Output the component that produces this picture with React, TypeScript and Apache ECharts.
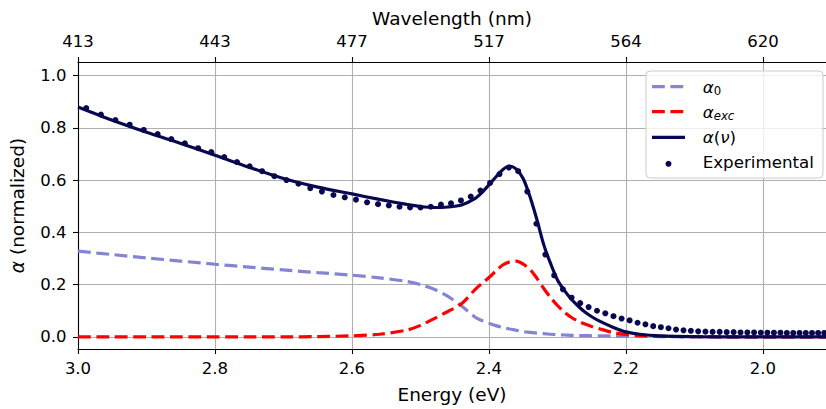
import React, { useEffect, useRef } from "react";
import * as echarts from "echarts";

// Experimental points, sampled on a wavelength grid (nm)
const expWavelength = [
  415, 418, 421, 424, 427, 430, 433, 436, 439, 442, 445, 448, 451, 454, 457, 460,
  463, 466, 469, 472, 475, 478, 481, 484, 487, 490, 493, 496, 499, 502, 505, 508,
  511, 514, 517, 520, 523, 526, 529, 532, 535, 538, 541, 544, 547, 550, 553, 556,
  559, 562, 565, 568, 571, 574, 577, 580, 583, 586, 589, 592, 595, 598, 601, 604,
  607, 610, 613, 616, 619, 622, 625, 628, 631, 634, 637, 640, 643, 646, 649,
];
const expAlpha = [
  0.876, 0.851, 0.83, 0.812, 0.792, 0.776, 0.757, 0.741, 0.722, 0.707, 0.688, 0.669,
  0.653, 0.634, 0.615, 0.6, 0.586, 0.569, 0.556, 0.543, 0.534, 0.525, 0.515, 0.508,
  0.503, 0.498, 0.495, 0.495, 0.498, 0.506, 0.511, 0.522, 0.537, 0.56, 0.589, 0.623,
  0.648, 0.634, 0.556, 0.433, 0.315, 0.235, 0.182, 0.15, 0.129, 0.114, 0.1, 0.09,
  0.079, 0.07, 0.063, 0.054, 0.048, 0.041, 0.037, 0.033, 0.028, 0.025, 0.023, 0.021,
  0.02, 0.019, 0.019, 0.018, 0.018, 0.017, 0.017, 0.017, 0.016, 0.016, 0.016, 0.016,
  0.015, 0.015, 0.015, 0.015, 0.015, 0.015, 0.015,
];

// Model curves on an energy grid (eV)
const curveEnergy = [
  3.0, 2.95, 2.9, 2.85, 2.8, 2.75, 2.7, 2.65, 2.6, 2.56, 2.52, 2.5, 2.48, 2.46, 2.44,
  2.42, 2.41, 2.4, 2.39, 2.38, 2.37, 2.36, 2.35, 2.34, 2.33, 2.32, 2.31, 2.3, 2.29,
  2.28, 2.27, 2.26, 2.25, 2.24, 2.22, 2.2, 2.18, 2.15, 2.1, 2.05, 2.0, 1.9,
];
const alpha0 = [
  0.328, 0.315, 0.302, 0.29, 0.278, 0.267, 0.256, 0.246, 0.236, 0.226, 0.212, 0.2,
  0.182, 0.155, 0.118, 0.075, 0.062, 0.052, 0.043, 0.036, 0.03, 0.025, 0.02, 0.017,
  0.014, 0.012, 0.01, 0.008, 0.007, 0.006, 0.005, 0.005, 0.004, 0.004, 0.003, 0.002,
  0.002, 0.001, 0.001, 0.0, 0.0, 0.0,
];
const alphaExc = [
  0.0, 0.0, 0.0, 0.0, 0.0, 0.0, 0.0, 0.001, 0.004, 0.01, 0.026, 0.044, 0.07, 0.097,
  0.127, 0.182, 0.205, 0.227, 0.252, 0.275, 0.287, 0.29, 0.278, 0.258, 0.224, 0.185,
  0.15, 0.12, 0.095, 0.075, 0.06, 0.049, 0.04, 0.032, 0.017, 0.009, 0.005, 0.002,
  0.001, 0.0, 0.0, 0.0,
];
const alphaNu = [
  0.88, 0.829, 0.783, 0.74, 0.695, 0.649, 0.606, 0.573, 0.547, 0.526, 0.507, 0.499,
  0.495, 0.497, 0.505, 0.53, 0.553, 0.582, 0.612, 0.64, 0.654, 0.642, 0.605, 0.535,
  0.448, 0.352, 0.28, 0.218, 0.178, 0.145, 0.118, 0.095, 0.077, 0.062, 0.038, 0.019,
  0.01, 0.004, 0.001, 0.0, 0.0, 0.0,
];

const xTicks = [2.0, 2.2, 2.4, 2.6, 2.8, 3.0];
const yTicks = [0, 0.2, 0.4, 0.6, 0.8, 1.0];
const HC = 1240; // eV·nm

const NAVY = "#080850";
const PURPLE = "#8484d4";
const RED = "#ff0000";
const FONT = "DejaVu Sans";

export default function App() {
  const ref = useRef<HTMLDivElement>(null);

  useEffect(() => {
    if (!ref.current) return;
    const chart = echarts.init(ref.current, undefined, { renderer: "svg" });

    const toPairs = (ys: number[]) => curveEnergy.map((e, i) => [e, ys[i]]);
    const expData = expWavelength.map((w, i) => [HC / w, expAlpha[i]]);

    const tickLabel = { color: "#000", fontFamily: FONT, fontSize: 16.5 };
    const axisLine = { show: true, onZero: false, lineStyle: { color: "#000", width: 1.1 } };
    const axisTick = { show: true, inside: false, length: 5, lineStyle: { color: "#000", width: 1.1 } };
    const grid = { color: "#b0b0b0", width: 1.1 };

    const dash = [12.8, 5.6];
    const legendRich = {
      a: { fontFamily: FONT, fontSize: 16.7, fontStyle: "italic", lineHeight: 20, fill: "#000" },
      n: { fontFamily: FONT, fontSize: 16.7, lineHeight: 20, fill: "#000" },
      s: { fontFamily: FONT, fontSize: 11.7, lineHeight: 12, verticalAlign: "bottom", fill: "#000" },
      si: { fontFamily: FONT, fontSize: 11.7, fontStyle: "italic", lineHeight: 12, verticalAlign: "bottom", fill: "#000" },
    };
    const rows = [86.7, 111.7, 137.3, 162.3];
    const hx1 = 652, hx2 = 685, tx = 702.7;

    const xMin = 1.908;
    const xMax = 3.0;

    chart.setOption({
      animation: false,
      grid: { left: 75, right: 0, top: 62, bottom: 56, containLabel: false },
      xAxis: [
        {
          type: "value",
          position: "bottom",
          min: xMin,
          max: xMax,
          inverse: true,
          name: "Energy (eV)",
          nameLocation: "middle",
          nameGap: 36,
          nameTextStyle: { color: "#000", fontFamily: FONT, fontSize: 18.5 },
          axisLine,
          axisTick: { ...axisTick, customValues: xTicks },
          axisLabel: { ...tickLabel, margin: 11, customValues: xTicks, formatter: (v: number) => v.toFixed(1) },
          splitLine: { show: true, lineStyle: grid },
        },
        {
          type: "value",
          position: "top",
          min: xMin,
          max: xMax,
          inverse: true,
          name: "Wavelength (nm)",
          nameLocation: "middle",
          nameGap: 33,
          nameTextStyle: { color: "#000", fontFamily: FONT, fontSize: 18.5 },
          axisLine,
          axisTick: { ...axisTick, customValues: xTicks },
          axisLabel: {
            ...tickLabel,
            margin: 12,
            customValues: xTicks,
            formatter: (v: number) => String(Math.round(HC / v)),
          },
          splitLine: { show: false },
        },
      ],
      yAxis: {
        type: "value",
        min: -0.0465,
        max: 1.052,
        name: "{i|α} (normalized)",
        nameLocation: "middle",
        nameGap: 51,
        nameRotate: 90,
        nameTextStyle: {
          color: "#000",
          fontFamily: FONT,
          fontSize: 18.5,
          rich: { i: { fontFamily: FONT, fontSize: 18.5, fontStyle: "italic", color: "#000" } },
        },
        axisLine,
        axisTick: { ...axisTick, customValues: yTicks },
        axisLabel: { ...tickLabel, margin: 11.5, customValues: yTicks, formatter: (v: number) => v.toFixed(1) },
        splitLine: { show: true, lineStyle: grid },
      },
      series: [
        {
          name: "alpha0",
          type: "line",
          data: toPairs(alpha0),
          showSymbol: false,
          symbol: "none",
          smooth: 0.3,
          lineStyle: { color: PURPLE, width: 3.2, type: dash },
          z: 2,
        },
        {
          name: "alphaExc",
          type: "line",
          data: toPairs(alphaExc),
          showSymbol: false,
          symbol: "none",
          smooth: 0.3,
          lineStyle: { color: RED, width: 3.2, type: dash },
          z: 3,
        },
        {
          name: "alphaNu",
          type: "line",
          data: toPairs(alphaNu),
          showSymbol: false,
          symbol: "none",
          smooth: 0.3,
          lineStyle: { color: NAVY, width: 3.2 },
          z: 4,
        },
        {
          name: "Experimental",
          type: "scatter",
          data: expData,
          symbol: "circle",
          symbolSize: 6,
          itemStyle: { color: NAVY, opacity: 1 },
          z: 5,
        },
      ],
      graphic: [
        {
          type: "rect",
          z: 100,
          shape: { x: 646, y: 71, width: 177, height: 107, r: 4 },
          style: { fill: "rgba(255,255,255,0.8)", stroke: "#cccccc", lineWidth: 1 },
        },
        {
          type: "line",
          z: 101,
          shape: { x1: hx1, y1: rows[0], x2: hx2, y2: rows[0] },
          style: { stroke: PURPLE, lineWidth: 3.2, lineDash: dash },
        },
        {
          type: "line",
          z: 101,
          shape: { x1: hx1, y1: rows[1], x2: hx2, y2: rows[1] },
          style: { stroke: RED, lineWidth: 3.2, lineDash: dash },
        },
        {
          type: "line",
          z: 101,
          shape: { x1: hx1, y1: rows[2], x2: hx2, y2: rows[2] },
          style: { stroke: NAVY, lineWidth: 3.2 },
        },
        {
          type: "circle",
          z: 101,
          shape: { cx: (hx1 + hx2) / 2, cy: rows[3] + 1.5, r: 3 },
          style: { fill: NAVY },
        },
        {
          type: "text",
          z: 101,
          x: tx,
          y: rows[0],
          style: { text: "{a|α}{s|0}", rich: legendRich, verticalAlign: "middle", align: "left" },
        },
        {
          type: "text",
          z: 101,
          x: tx,
          y: rows[1],
          style: { text: "{a|α}{si|exc}", rich: legendRich, verticalAlign: "middle", align: "left" },
        },
        {
          type: "text",
          z: 101,
          x: tx,
          y: rows[2],
          style: { text: "{a|α}{n|(}{a|ν}{n|)}", rich: legendRich, verticalAlign: "middle", align: "left" },
        },
        {
          type: "text",
          z: 101,
          x: tx,
          y: rows[3],
          style: {
            text: "Experimental",
            fontFamily: FONT,
            fontSize: 16.7,
            fill: "#000",
            verticalAlign: "middle",
            align: "left",
          },
        },
      ],
    });

    return () => chart.dispose();
  }, []);

  return (
    <div
      ref={ref}
      style={{ position: "fixed", left: 0, top: 0, width: 826, height: 409, background: "#fff" }}
    />
  );
}
